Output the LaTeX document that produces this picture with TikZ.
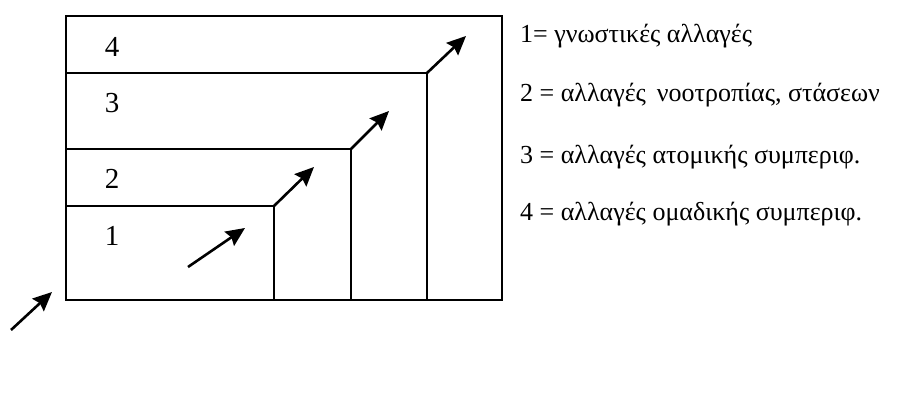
\documentclass[tikz,border=0pt]{standalone}
\usepackage{fontspec}
\setmainfont{Liberation Serif}
\usetikzlibrary{arrows.meta}
\begin{document}
\begin{tikzpicture}[x=1pt,y=-1pt,
  boxline/.style={line width=2pt, line join=miter},
  uparrow/.style={line width=2.6pt, -{Stealth[length=19pt,width=17pt,inset=2.5pt]}},
  boxlabel/.style={anchor=base, inner sep=0pt, font=\fontsize{29}{32}\selectfont},
  legend/.style={anchor=base west, inner sep=0pt, font=\fontsize{26}{30}\selectfont}]
\useasboundingbox (0,0) rectangle (898,406);
% frame
\coordinate (tl) at (66,16);
\coordinate (br) at (502,300);
\draw[boxline] (tl) rectangle (br);
% inner step lines
\coordinate (s4a) at (66,73);  \coordinate (s4) at (427,73);  \coordinate (s4b) at (427,300);
\coordinate (s3a) at (66,149); \coordinate (s3) at (351,149); \coordinate (s3b) at (351,300);
\coordinate (s2a) at (66,206); \coordinate (s2) at (274,206); \coordinate (s2b) at (274,300);
\draw[boxline] (s4a) -- (s4) -- (s4b);
\draw[boxline] (s3a) -- (s3) -- (s3b);
\draw[boxline] (s2a) -- (s2) -- (s2b);
% arrow end points
\coordinate (t4) at (466,36);
\coordinate (t3) at (389,111);
\coordinate (t2) at (314,167);
\coordinate (a1s) at (188,267); \coordinate (a1t) at (245,228);
\coordinate (a0s) at (11,330);  \coordinate (a0t) at (52,292);
\draw[uparrow] (s4) -- (t4);
\draw[uparrow] (s3) -- (t3);
\draw[uparrow] (s2) -- (t2);
\draw[uparrow] (a1s) -- (a1t);
\draw[uparrow] (a0s) -- (a0t);
% box labels
\node[boxlabel] (l4) at (112,57) {4};
\node[boxlabel] (l3) at (112,113) {3};
\node[boxlabel] (l2) at (112,189) {2};
\node[boxlabel] (l1) at (112,246) {1};
% legend
\node[legend] (g1) at (520,43) {1= γνωστικές αλλαγές};
\node[legend] (g2) at (520,102) {2 = αλλαγές\, νοοτροπίας, στάσεων};
\node[legend] (g3) at (520,164) {3 = αλλαγές ατομικής συμπεριφ.};
\node[legend] (g4) at (520,221) {4 = αλλαγές ομαδικής συμπεριφ.};
\end{tikzpicture}
\end{document}
